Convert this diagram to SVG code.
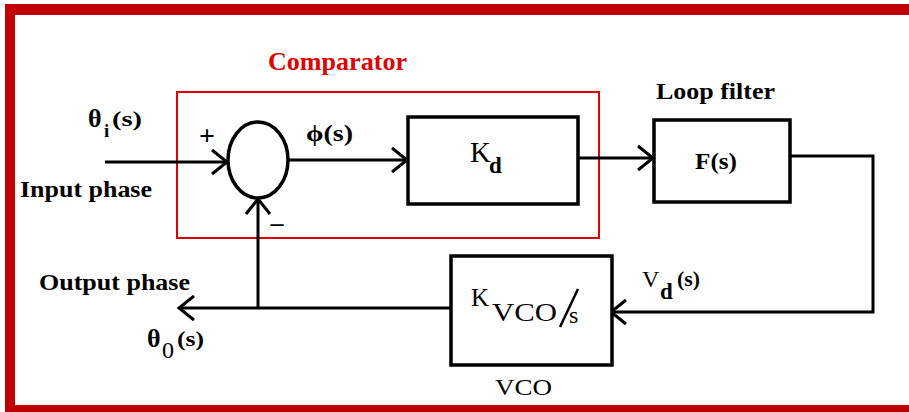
<svg xmlns="http://www.w3.org/2000/svg" width="909" height="412" viewBox="0 0 909 412">
<style>
.frame{fill:#c00000}
.blk{fill:#fff;stroke:#000;stroke-width:3.5}
.ln{fill:none;stroke:#000;stroke-width:3}
.t{font-family:"Liberation Serif","Times New Roman",serif;fill:#000}
.b{font-weight:bold}
</style>
<defs>
<marker id="arr" markerUnits="userSpaceOnUse" markerWidth="20" markerHeight="28" refX="16" refY="12" orient="auto" overflow="visible">
<path d="M1,0 L16,12 L1,24" fill="none" stroke="#000" stroke-width="3"/>
</marker>
</defs>
<rect width="909" height="412" fill="#fff"/>
<g id="frame">
<rect class="frame" x="5" y="4" width="904" height="11"/>
<rect class="frame" x="5" y="4" width="10" height="408"/>
<rect class="frame" x="5" y="405" width="904" height="7"/>
</g>
<g id="comparator">
<rect x="177" y="92" width="422" height="146" fill="none" stroke="#e00000" stroke-width="2"/>
<text class="t b" x="268" y="70" font-size="25" style="fill:#e00000" textLength="139" lengthAdjust="spacingAndGlyphs">Comparator</text>
</g>
<g id="connectors">
<path class="ln" d="M105,162 L227,162" marker-end="url(#arr)"/>
<path class="ln" d="M288,160 L407,160" marker-end="url(#arr)"/>
<path class="ln" d="M578,158 L653,158" marker-end="url(#arr)"/>
<path class="ln" d="M790,156 L873,156 L873,312 L611,312" marker-end="url(#arr)"/>
<path class="ln" d="M451,308 L179,308" marker-end="url(#arr)"/>
<path class="ln" d="M258,308 L258,199" marker-end="url(#arr)"/>
</g>
<g id="sum">
<ellipse cx="258" cy="160" rx="30" ry="38" fill="#fff" stroke="#000" stroke-width="3.5"/>
<text class="t b" x="207" y="145" font-size="28" text-anchor="middle">+</text>
<text class="t b" x="277" y="231" font-size="26" text-anchor="middle">–</text>
</g>
<g id="kd">
<rect class="blk" x="408" y="117" width="170" height="87"/>
<text class="t" x="470" y="162" font-size="29">K</text>
<text class="t b" x="489" y="173" font-size="23">d</text>
</g>
<g id="filter">
<rect class="blk" x="654" y="120" width="136" height="82"/>
<text class="t b" x="695" y="169" font-size="23" textLength="42" lengthAdjust="spacingAndGlyphs">F(s)</text>
<text class="t b" x="656" y="99" font-size="23" textLength="119" lengthAdjust="spacingAndGlyphs">Loop filter</text>
</g>
<g id="vco">
<rect class="blk" x="451" y="256" width="161" height="109"/>
<text class="t" x="471" y="306" font-size="25">K</text>
<text class="t" x="492" y="321" font-size="25" textLength="65" lengthAdjust="spacingAndGlyphs">VCO</text>
<path d="M578,289 L560,327" fill="none" stroke="#000" stroke-width="2.5"/>
<text class="t" x="569" y="323" font-size="24">s</text>
<text class="t" x="495" y="395" font-size="24" textLength="57" lengthAdjust="spacingAndGlyphs">VCO</text>
</g>
<g id="input">
<text class="t b" x="88" y="127" font-size="26">θ</text>
<text class="t b" x="104" y="137" font-size="19">i</text>
<text class="t b" x="112" y="126" font-size="22" textLength="30" lengthAdjust="spacingAndGlyphs">(s)</text>
<text class="t b" x="20" y="197" font-size="23" textLength="132" lengthAdjust="spacingAndGlyphs">Input phase</text>
</g>
<g id="phi">
<text class="t b" x="306" y="141" font-size="24" textLength="47" lengthAdjust="spacingAndGlyphs">ϕ(s)</text>
</g>
<g id="output">
<text class="t b" x="39" y="290" font-size="23" textLength="151" lengthAdjust="spacingAndGlyphs">Output phase</text>
<text class="t b" x="147" y="347" font-size="26">θ</text>
<text class="t" x="162" y="358" font-size="24">0</text>
<text class="t b" x="177" y="346" font-size="22" textLength="27" lengthAdjust="spacingAndGlyphs">(s)</text>
</g>
<g id="vd">
<text class="t" x="642" y="287" font-size="24">V</text>
<text class="t b" x="660" y="299" font-size="23">d</text>
<text class="t b" x="677" y="286" font-size="21" textLength="23" lengthAdjust="spacingAndGlyphs">(s)</text>
</g>
</svg>
